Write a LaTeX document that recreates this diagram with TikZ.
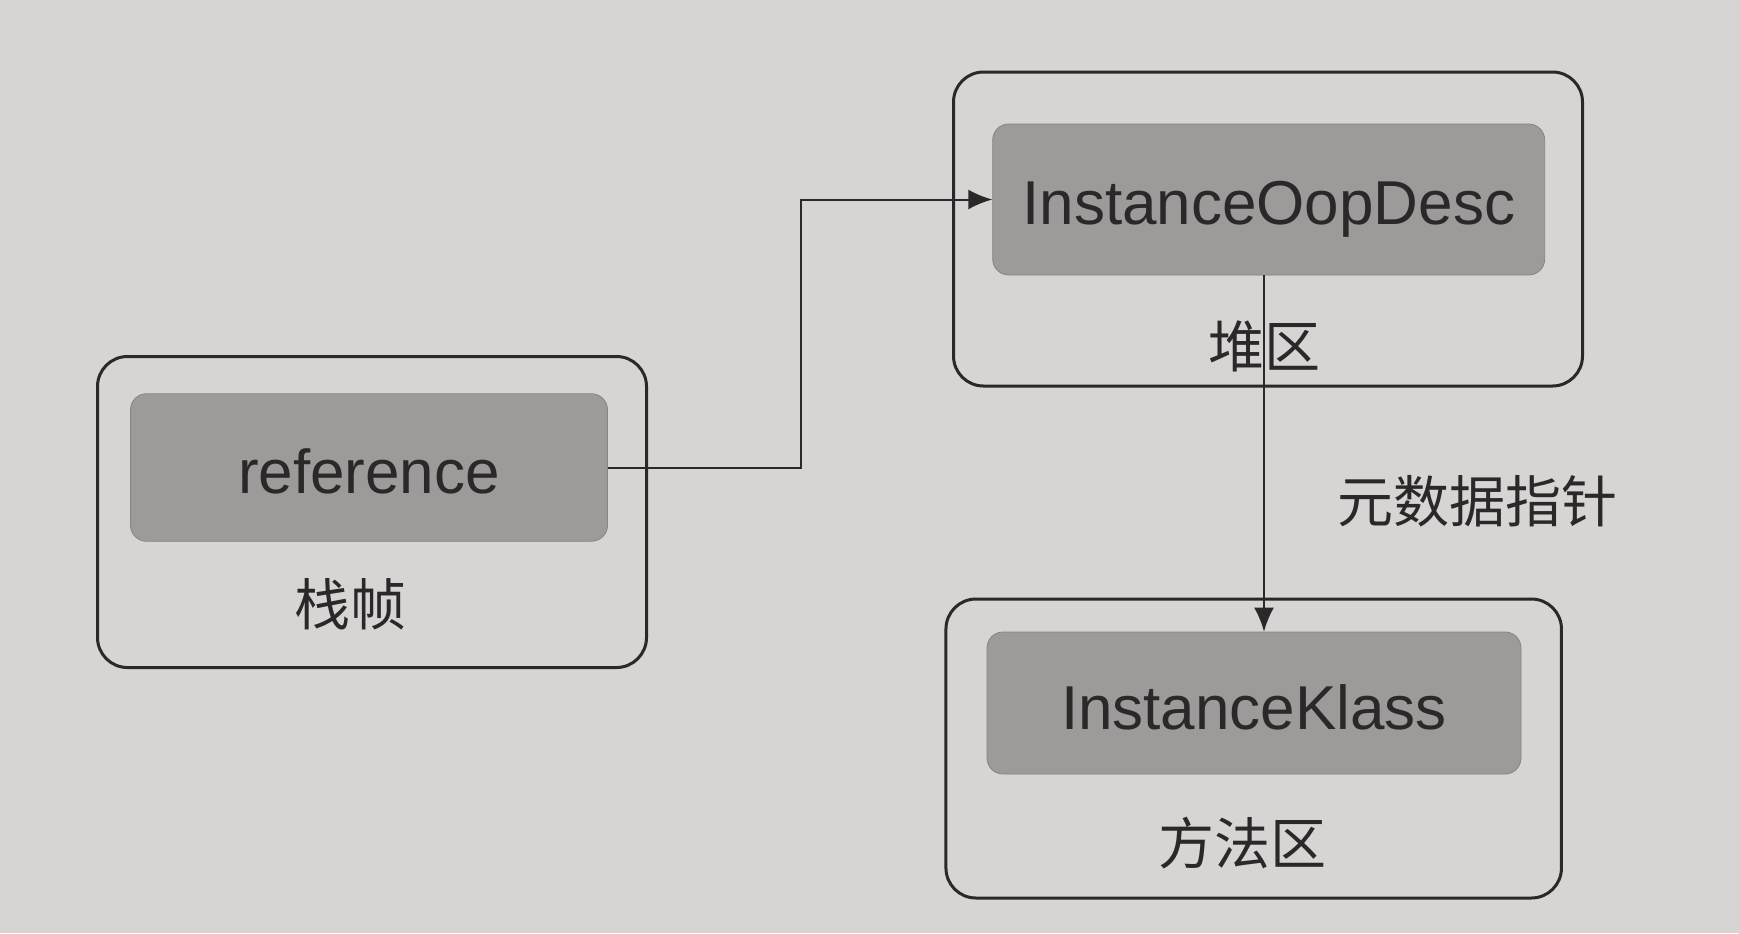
\documentclass[tikz,border=0pt]{standalone}
\usepackage{fontspec}
\setmainfont{Liberation Sans}
\newfontfamily\cjk{Noto Sans CJK SC}
\usetikzlibrary{arrows.meta}
\definecolor{bgcol}{HTML}{D7D5D3}
\definecolor{innercol}{HTML}{9C9B9A}
\definecolor{linecol}{HTML}{2A2828}
\newcommand{\lowered}[2]{\raisebox{-#1}[\height][\depth]{#2}}
\begin{document}
\begin{tikzpicture}[x=0.5pt,y=-0.5pt,
  outerbox/.style={draw=linecol,line width=1.5pt,rounded corners=15pt,rectangle,inner sep=0pt},
  innerbox/.style={fill=innercol,draw=innercol!85!black,line width=0.4pt,rounded corners=8pt,rectangle,inner sep=0pt,font=\fontsize{31}{36}\selectfont,text=linecol},
  zone/.style={font=\cjk\fontsize{28}{32}\selectfont,text=linecol,inner sep=0pt},
  conn/.style={draw=linecol,line width=1pt},
  tip/.style={-{Latex[length=12pt,width=10pt]}}
]
\fill[bgcol] (0,0) rectangle (1739,933);
\useasboundingbox (0,0) rectangle (1739,933);
% left
\node[outerbox,minimum width=274.5pt,minimum height=155.5pt] (stackbox) at (372,512) {};
\node[innerbox,minimum width=238.5pt,minimum height=73.75pt] (ref) at (369,467.5) {\lowered{2pt}{reference}};
\node[zone] (stacklbl) at (350,604) {栈帧};
% top right
\node[outerbox,minimum width=314.5pt,minimum height=157pt] (heapbox) at (1268,229) {};
\node[innerbox,minimum width=276pt,minimum height=75.5pt] (oop) at (1268.7,199.5) {\lowered{5pt}{InstanceOopDesc}};
\node[zone] (heaplbl) at (1264,346) {堆区};
% bottom right
\node[outerbox,minimum width=307.75pt,minimum height=149.5pt] (methbox) at (1253.7,748.5) {};
\node[innerbox,minimum width=267pt,minimum height=71pt] (klass) at (1254,703) {\lowered{2pt}{InstanceKlass}};
\node[zone] (methlbl) at (1242,843) {方法区};
% label
\node[zone] (metalbl) at (1477,501) {元数据指针};
% connectors
\coordinate (b1) at (800.7,467.5);
\coordinate (b2) at (800.7,199.5);
\coordinate (dn) at (1264,275);
\draw[conn,tip] (ref.east) -- (b1) -- (b2) -- (oop.west);
\draw[conn,tip] (oop.south -| dn) -- (dn |- klass.north);
\end{tikzpicture}
\end{document}
